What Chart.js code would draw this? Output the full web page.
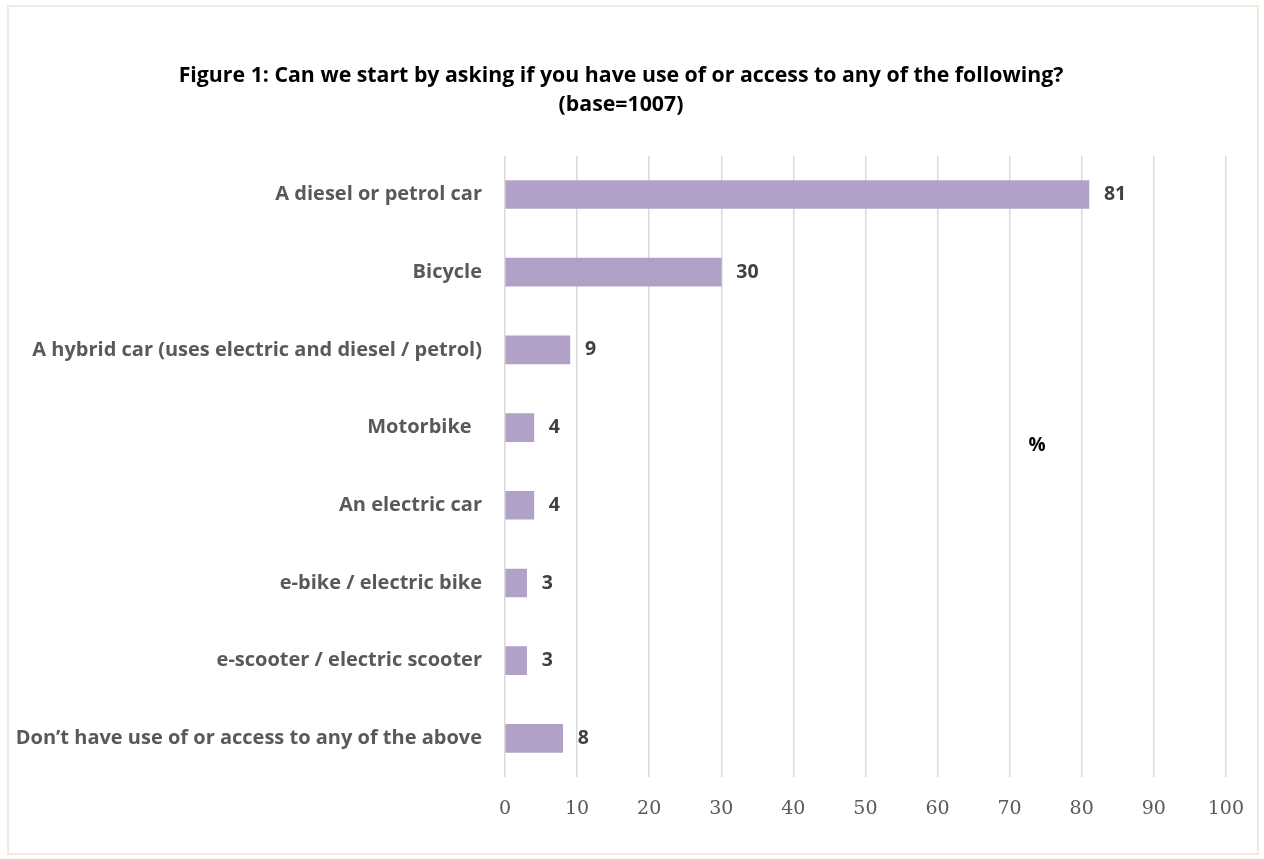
<!DOCTYPE html>
<html>
<head>
<meta charset="utf-8">
<script src="https://cdn.jsdelivr.net/npm/chart.js@4.4.1/dist/chart.umd.min.js"></script>
<style>
  html, body { margin: 0; padding: 0; background: #fff; }
  #wrap { position: relative; width: 1264px; height: 859px; }
  #frame { position: absolute; left: 7px; top: 5px; width: 1248px; height: 846px; border: 2px solid #efebdf; pointer-events: none; }
</style>
</head>
<body>
<div id="wrap">
  <canvas id="accessChart" width="1264" height="859"></canvas>
  <div id="frame"></div>
</div>
<script>
// ---- data ----
const categories = [
    'A diesel or petrol car',
    'Bicycle',
    'A hybrid car (uses electric and diesel / petrol)',
    'Motorbike  ',
    'An electric car',
    'e-bike / electric bike',
    'e-scooter / electric scooter',
    'Don\u2019t have use of or access to any of the above'
];
const percentValues = [81, 30, 9, 4, 4, 3, 3, 8];
const xTicks = [0, 10, 20, 30, 40, 50, 60, 70, 80, 90, 100];
const titleLines = [
    'Figure 1: Can we start by asking if you have use of or access to any of the following?',
    '(base=1007)'
];
const unitLabel = '%';

// value labels at the end of each bar
const barValueLabels = {
    id: 'barValueLabels',
    afterDatasetsDraw(chart) {
        const ctx = chart.ctx;
        const meta = chart.getDatasetMeta(0);
        ctx.save();
        ctx.font = 'bold 19.5px "Open Sans"';
        ctx.fillStyle = '#404040';
        ctx.textAlign = 'left';
        ctx.textBaseline = 'middle';
        meta.data.forEach((bar, i) => {
            ctx.fillText(String(percentValues[i]), bar.x + 15, bar.y);
        });
        ctx.restore();
    }
};

// the stray "%" unit marker inside the plot
const unitMarker = {
    id: 'unitMarker',
    afterDraw(chart) {
        const ctx = chart.ctx;
        const x = chart.scales.x.getPixelForValue(73.8);
        const y = chart.scales.y.getPixelForValue(3.23);
        ctx.save();
        ctx.font = 'bold 19px "Open Sans"';
        ctx.fillStyle = '#000';
        ctx.textAlign = 'center';
        ctx.textBaseline = 'middle';
        ctx.fillText(unitLabel, x, y);
        ctx.restore();
    }
};

const ctx = document.getElementById('accessChart').getContext('2d');
new Chart(ctx, {
    type: 'bar',
    data: {
        labels: categories,
        datasets: [{
            data: percentValues,
            backgroundColor: '#b1a0c7',
            borderWidth: 0,
            barThickness: 28
        }]
    },
    options: {
        indexAxis: 'y',
        responsive: false,
        animation: false,
        layout: { padding: { left: 8, right: 30, top: 0, bottom: 19 } },
        plugins: {
            legend: { display: false },
            tooltip: { enabled: false },
            title: {
                display: true,
                text: titleLines,
                color: '#000',
                font: { family: '"Open Sans"', size: 21.3, weight: 'bold', lineHeight: 1.33 },
                padding: { top: 62, bottom: 37 }
            }
        },
        scales: {
            x: {
                min: 0,
                max: 100,
                afterBuildTicks(scale) { scale.ticks = xTicks.map(v => ({ value: v })); },
                grid: { color: '#d9d9d9', lineWidth: 1.5, drawTicks: false },
                border: { display: false },
                ticks: {
                    padding: 20,
                    color: '#595959',
                    font: { family: '"DejaVu Serif"', size: 19 }
                }
            },
            y: {
                afterFit(scale) { scale.width = 497; },
                grid: { display: false, drawTicks: false },
                border: { display: false },
                ticks: {
                    padding: 23,
                    color: '#595959',
                    font: { family: '"Open Sans"', size: 20, weight: 'bold' }
                }
            }
        }
    },
    plugins: [barValueLabels, unitMarker]
});
</script>
</body>
</html>
